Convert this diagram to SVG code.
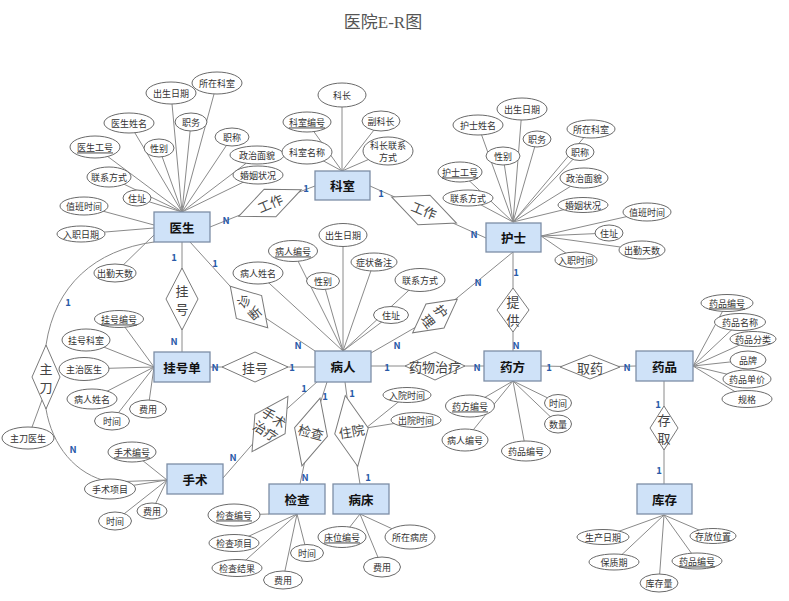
<svg xmlns="http://www.w3.org/2000/svg" width="789" height="601" viewBox="0 0 789 601">
<style>
text{font-family:"Noto Sans CJK SC","Noto Sans",sans-serif;text-anchor:middle;dominant-baseline:central}
.title{font-family:"Liberation Serif","Noto Sans CJK SC",serif;font-size:17px;fill:#555}
.ln{stroke:#8a8a8a;stroke-width:1;fill:none}
.ent rect{fill:#cfe2f8;stroke:#7d8ea6;stroke-width:1.3}
.ent text{font-size:12.5px;font-weight:bold;fill:#111}
.rel polygon{fill:#fff;stroke:#7a7a7a;stroke-width:1}
.rel text{font-size:13px;fill:#444}
.at ellipse{fill:#fff;stroke:#6a6a6a;stroke-width:1}
.at text{font-size:9px;fill:#333}
.u{text-decoration:underline}
.c{font-size:9.5px;font-weight:bold;fill:#2a5aa8}
</style>
<rect width="789" height="601" fill="#fff"/>
<text class="title" x="383" y="22">医院E-R图</text>

<g id="connectors" class="ln">
<polyline points="210,227 270,203 315,186"/>
<polyline points="370,186 424,210 486,238"/>
<polyline points="182,242 182,299 182,352"/>
<polyline points="190,242 249,307 315,351"/>
<polyline points="210,367 255,367 315,367"/>
<path d="M154,242 C95,250 55,285 46,345 L46,409 C52,445 75,475 110,482 L167,480"/>
<line x1="28" y1="438" x2="42" y2="400"/>
<polyline points="318,381 270,424 223,478"/>
<polyline points="327,382 311,432 300,484"/>
<polyline points="345,382 351.5,431 360,484"/>
<line x1="366" y1="428" x2="407" y2="395"/>
<line x1="366" y1="428" x2="416" y2="420"/>
<polyline points="371,353 435,316 513,252"/>
<polyline points="513,252 513,310 513,351"/>
<polyline points="371,366 435,366 484,366"/>
<polyline points="541,366 590,367 636,366"/>
<polyline points="664,381 664,428 664,484"/>
<path d="M182,212L217,83M182,212L171,93M182,212L129,123M182,212L191,122M182,212L232,137M182,212L95,147M182,212L159,148M182,212L257,155M182,212L109,177M182,212L258,175M182,212L137,198M154,225L84,206M154,228L81,234M154,235L115,273"/>
<path d="M342,171L342,95M342,171L307,122M342,171L381,121M342,171L307,152M342,171L388,151"/>
<path d="M513,222L522,109M513,222L478,125M513,222L591,129M513,222L537,139M513,222L503,156M513,222L580,152M513,222L460,172M513,222L584,178M513,222L468,198M513,222L583,205M541,236L647,212M541,236L609,233M541,236L642,250M541,236L576,260"/>
<path d="M343,351L343,235M343,351L293,251M343,351L374,262M343,351L258,273M343,351L323,281M343,351L420,280M343,351L391,315"/>
<path d="M154,367L119,319M154,367L86,340M154,367L84,369M154,367L92,399M154,367L148,409M154,367L112,421"/>
<path d="M167,480L132,452M167,480L110,489M167,480L152,511M167,480L115,521"/>
<path d="M269,514L234,515M297,514L234,543M297,514L307,553M297,514L237,568M297,514L283,580"/>
<path d="M360,514L342,537M360,514L410,537M360,514L382,567"/>
<path d="M513,381L470,406M513,381L558,403M513,381L465,440M513,381L558,424M513,381L526,451"/>
<path d="M693,366L727,303M693,366L740,322M693,366L753,339M693,366L748,360M693,366L747,379M693,366L747,399"/>
<path d="M664,515L603,537M664,515L713,536M664,515L614,562M664,515L697,561M664,515L659,583"/>
</g>

<g id="cardinalities">
<text class="c" x="226" y="220">N</text><text class="c" x="306" y="188">1</text>
<text class="c" x="381" y="193">1</text><text class="c" x="474" y="234">N</text>
<text class="c" x="174" y="257">1</text><text class="c" x="174" y="341">N</text>
<text class="c" x="215" y="263">1</text><text class="c" x="298" y="345">N</text>
<text class="c" x="215" y="367">N</text><text class="c" x="292" y="367">1</text>
<text class="c" x="68" y="302">1</text><text class="c" x="73" y="449">N</text>
<text class="c" x="304" y="388">1</text><text class="c" x="233" y="457">N</text>
<text class="c" x="325" y="396">1</text><text class="c" x="305" y="477">N</text>
<text class="c" x="352" y="393">1</text><text class="c" x="368" y="477">1</text>
<text class="c" x="397" y="345">N</text><text class="c" x="478" y="282">N</text>
<text class="c" x="516" y="272">1</text><text class="c" x="516" y="345">N</text>
<text class="c" x="387" y="367">1</text><text class="c" x="477" y="367">N</text>
<text class="c" x="549" y="367">1</text><text class="c" x="627" y="367">N</text>
<text class="c" x="658" y="404">1</text><text class="c" x="659" y="470">1</text>
</g>

<g id="relationships" class="rel">
<g id="r-work1" transform="translate(270,203) rotate(-23)"><polygon points="-34,0 0,-15 34,0 0,15"/><text>工作</text></g>
<g id="r-work2" transform="translate(424,210) rotate(22)"><polygon points="-35,0 0,-16 35,0 0,16"/><text>工作</text></g>
<g id="r-reg1" transform="translate(182,299)"><polygon points="0,-31 16,0 0,31 -16,0"/><text y="-9">挂</text><text y="9">号</text></g>
<g id="r-diag" transform="translate(249,307) rotate(-42)"><polygon points="0,-28 17,0 0,28 -17,0"/><text y="-8">诊</text><text y="8">断</text></g>
<g id="r-reg2" transform="translate(255,367)"><polygon points="-33,0 0,-15 33,0 0,15"/><text>挂号</text></g>
<g id="r-main" transform="translate(46,377)"><polygon points="0,-32 14,0 0,32 -14,0"/><text y="-9">主</text><text y="9">刀</text></g>
<g id="r-surg" transform="translate(270,424) rotate(33)"><polygon points="0,-33 18,0 0,33 -18,0"/><text y="-8">手术</text><text y="8">治疗</text></g>
<g id="r-check" transform="translate(311,432) rotate(15)"><polygon points="0,-35 17,0 0,35 -17,0"/><text>检查</text></g>
<g id="r-hosp" transform="translate(351.5,431) rotate(-10)"><polygon points="0,-36 17,0 0,36 -17,0"/><text>住院</text></g>
<g id="r-care" transform="translate(435,316) rotate(53)"><polygon points="0,-28 15,0 0,28 -15,0"/><text y="-8">护</text><text y="8">理</text></g>
<g id="r-provide" transform="translate(513,310)"><polygon points="0,-22 16,0 0,22 -16,0"/><text y="-9">提</text><text y="9">供</text></g>
<g id="r-drug" transform="translate(435,366)"><polygon points="-30,0 0,-14 30,0 0,14"/><text>药物治疗</text></g>
<g id="r-take" transform="translate(590,367)"><polygon points="-30,0 0,-12 30,0 0,12"/><text>取药</text></g>
<g id="r-store" transform="translate(664,428)"><polygon points="0,-22 14,0 0,22 -14,0"/><text y="-9">存</text><text y="9">取</text></g>
</g>

<g id="entities" class="ent">
<g id="e-doctor"><rect x="154" y="212" width="56" height="30"/><text x="182" y="227">医生</text></g>
<g id="e-dept"><rect x="315" y="171" width="55" height="29"/><text x="342.5" y="185.5">科室</text></g>
<g id="e-nurse"><rect x="486" y="223" width="55" height="29"/><text x="513.5" y="237.5">护士</text></g>
<g id="e-reg"><rect x="154" y="352" width="56" height="30"/><text x="182" y="367">挂号单</text></g>
<g id="e-patient"><rect x="315" y="351" width="56" height="31"/><text x="343" y="366.5">病人</text></g>
<g id="e-presc"><rect x="484" y="351" width="57" height="30"/><text x="512.5" y="366">药方</text></g>
<g id="e-drug"><rect x="636" y="351" width="57" height="30"/><text x="664.5" y="366">药品</text></g>
<g id="e-surgery"><rect x="167" y="464" width="56" height="30"/><text x="195" y="479">手术</text></g>
<g id="e-check"><rect x="269" y="484" width="56" height="30"/><text x="297" y="499">检查</text></g>
<g id="e-bed"><rect x="333" y="484" width="56" height="30"/><text x="361" y="499">病床</text></g>
<g id="e-stock"><rect x="637" y="484" width="55" height="30"/><text x="664.5" y="499">库存</text></g>
</g>

<g id="attributes" class="at">
<g id="a-d1"><ellipse cx="217" cy="83" rx="25" ry="11"/><text x="217" y="83">所在科室</text></g>
<g id="a-d2"><ellipse cx="171" cy="93" rx="25" ry="11"/><text x="171" y="93">出生日期</text></g>
<g id="a-d3"><ellipse cx="129" cy="123" rx="25" ry="10"/><text x="129" y="123">医生姓名</text></g>
<g id="a-d4"><ellipse cx="191" cy="122" rx="16" ry="9"/><text x="191" y="122">职务</text></g>
<g id="a-d5"><ellipse cx="232" cy="137" rx="17" ry="9"/><text x="232" y="137">职称</text></g>
<g id="a-d6"><ellipse cx="95" cy="147" rx="25" ry="11"/><text class="u" x="95" y="147">医生工号</text></g>
<g id="a-d7"><ellipse cx="159" cy="148" rx="15" ry="9"/><text x="159" y="148">性别</text></g>
<g id="a-d8"><ellipse cx="257" cy="155" rx="27" ry="9"/><text x="257" y="155">政治面貌</text></g>
<g id="a-d9"><ellipse cx="109" cy="177" rx="22" ry="10"/><text x="109" y="177">联系方式</text></g>
<g id="a-d10"><ellipse cx="258" cy="175" rx="25" ry="9"/><text x="258" y="175">婚姻状况</text></g>
<g id="a-d11"><ellipse cx="137" cy="198" rx="14" ry="8"/><text x="137" y="198">住址</text></g>
<g id="a-d12"><ellipse cx="84" cy="206" rx="24" ry="9"/><text x="84" y="206">值班时间</text></g>
<g id="a-d13"><ellipse cx="81" cy="234" rx="24" ry="8"/><text x="81" y="234">入职日期</text></g>
<g id="a-d14"><ellipse cx="115" cy="273" rx="21" ry="9"/><text x="115" y="273">出勤天数</text></g>

<g id="a-k1"><ellipse cx="342" cy="95" rx="24" ry="12"/><text x="342" y="95">科长</text></g>
<g id="a-k2"><ellipse cx="307" cy="122" rx="24" ry="10"/><text class="u" x="307" y="122">科室编号</text></g>
<g id="a-k3"><ellipse cx="381" cy="121" rx="19" ry="10"/><text x="381" y="121">副科长</text></g>
<g id="a-k4"><ellipse cx="307" cy="152" rx="25" ry="12"/><text x="307" y="152">科室名称</text></g>
<g id="a-k5"><ellipse cx="388" cy="151" rx="25" ry="14"/><text x="388" y="145">科长联系</text><text x="388" y="157">方式</text></g>

<g id="a-n1"><ellipse cx="522" cy="109" rx="25" ry="11"/><text x="522" y="109">出生日期</text></g>
<g id="a-n2"><ellipse cx="478" cy="125" rx="25" ry="10"/><text x="478" y="125">护士姓名</text></g>
<g id="a-n3"><ellipse cx="591" cy="129" rx="24" ry="9"/><text x="591" y="129">所在科室</text></g>
<g id="a-n4"><ellipse cx="537" cy="139" rx="14" ry="8"/><text x="537" y="139">职务</text></g>
<g id="a-n5"><ellipse cx="503" cy="156" rx="17" ry="9"/><text x="503" y="156">性别</text></g>
<g id="a-n6"><ellipse cx="580" cy="152" rx="14" ry="8.5"/><text x="580" y="152">职称</text></g>
<g id="a-n7"><ellipse cx="460" cy="172" rx="22" ry="10"/><text class="u" x="460" y="172">护士工号</text></g>
<g id="a-n8"><ellipse cx="584" cy="178" rx="24" ry="10"/><text x="584" y="178">政治面貌</text></g>
<g id="a-n9"><ellipse cx="468" cy="198" rx="25" ry="8"/><text x="468" y="198">联系方式</text></g>
<g id="a-n10"><ellipse cx="583" cy="205" rx="25" ry="7.5"/><text x="583" y="205">婚姻状况</text></g>
<g id="a-n11"><ellipse cx="647" cy="212" rx="24" ry="9"/><text x="647" y="212">值班时间</text></g>
<g id="a-n12"><ellipse cx="609" cy="233" rx="14" ry="8"/><text x="609" y="233">住址</text></g>
<g id="a-n13"><ellipse cx="642" cy="250" rx="23" ry="9"/><text x="642" y="250">出勤天数</text></g>
<g id="a-n14"><ellipse cx="576" cy="260" rx="21" ry="8"/><text x="576" y="260">入职时间</text></g>

<g id="a-p1"><ellipse cx="343" cy="235" rx="24" ry="11.5"/><text x="343" y="235">出生日期</text></g>
<g id="a-p2"><ellipse cx="293" cy="251" rx="24.5" ry="10.5"/><text class="u" x="293" y="251">病人编号</text></g>
<g id="a-p3"><ellipse cx="374" cy="262" rx="23" ry="9"/><text x="374" y="262">症状备注</text></g>
<g id="a-p4"><ellipse cx="258" cy="273" rx="25" ry="11"/><text x="258" y="273">病人姓名</text></g>
<g id="a-p5"><ellipse cx="323" cy="281" rx="16.5" ry="8.5"/><text x="323" y="281">性别</text></g>
<g id="a-p6"><ellipse cx="420" cy="280" rx="25" ry="11.5"/><text x="420" y="280">联系方式</text></g>
<g id="a-p7"><ellipse cx="391" cy="315" rx="17.5" ry="8.5"/><text x="391" y="315">住址</text></g>
<g id="a-h1"><ellipse cx="407" cy="395" rx="24" ry="7.5"/><text x="407" y="395">入院时间</text></g>
<g id="a-h2"><ellipse cx="416" cy="420" rx="25" ry="7.5"/><text x="416" y="420">出院时间</text></g>

<g id="a-g1"><ellipse cx="119" cy="319" rx="24.5" ry="8.5"/><text class="u" x="119" y="319">挂号编号</text></g>
<g id="a-g2"><ellipse cx="86" cy="340" rx="24" ry="11"/><text x="86" y="340">挂号科室</text></g>
<g id="a-g3"><ellipse cx="84" cy="369" rx="25" ry="11.5"/><text x="84" y="369">主治医生</text></g>
<g id="a-g4"><ellipse cx="92" cy="399" rx="25" ry="10"/><text x="92" y="399">病人姓名</text></g>
<g id="a-g5"><ellipse cx="148" cy="409" rx="18.5" ry="9"/><text x="148" y="409">费用</text></g>
<g id="a-g6"><ellipse cx="112" cy="421" rx="17.5" ry="9"/><text x="112" y="421">时间</text></g>
<g id="a-m1"><ellipse cx="28" cy="438" rx="26" ry="11"/><text x="28" y="438">主刀医生</text></g>

<g id="a-s1"><ellipse cx="132" cy="452" rx="24" ry="10"/><text class="u" x="132" y="452">手术编号</text></g>
<g id="a-s2"><ellipse cx="110" cy="489" rx="25.5" ry="10"/><text x="110" y="489">手术项目</text></g>
<g id="a-s3"><ellipse cx="152" cy="511" rx="15" ry="8"/><text x="152" y="511">费用</text></g>
<g id="a-s4"><ellipse cx="115" cy="521" rx="16.5" ry="9"/><text x="115" y="521">时间</text></g>

<g id="a-c1"><ellipse cx="234" cy="515" rx="26" ry="11"/><text class="u" x="234" y="515">检查编号</text></g>
<g id="a-c2"><ellipse cx="234" cy="543" rx="25" ry="8.5"/><text x="234" y="543">检查项目</text></g>
<g id="a-c3"><ellipse cx="307" cy="553" rx="16.5" ry="8.5"/><text x="307" y="553">时间</text></g>
<g id="a-c4"><ellipse cx="237" cy="568" rx="25" ry="8.5"/><text x="237" y="568">检查结果</text></g>
<g id="a-c5"><ellipse cx="283" cy="580" rx="19.5" ry="9"/><text x="283" y="580">费用</text></g>

<g id="a-b1"><ellipse cx="342" cy="537" rx="24" ry="10.5"/><text class="u" x="342" y="537">床位编号</text></g>
<g id="a-b2"><ellipse cx="410" cy="537" rx="25" ry="12"/><text x="410" y="537">所在病房</text></g>
<g id="a-b3"><ellipse cx="382" cy="567" rx="18.5" ry="10"/><text x="382" y="567">费用</text></g>

<g id="a-f1"><ellipse cx="470" cy="406" rx="24.5" ry="11"/><text class="u" x="470" y="406">药方编号</text></g>
<g id="a-f2"><ellipse cx="558" cy="403" rx="13.5" ry="8.5"/><text x="558" y="403">时间</text></g>
<g id="a-f3"><ellipse cx="465" cy="440" rx="23" ry="11"/><text x="465" y="440">病人编号</text></g>
<g id="a-f4"><ellipse cx="558" cy="424" rx="13.5" ry="9"/><text x="558" y="424">数量</text></g>
<g id="a-f5"><ellipse cx="526" cy="451" rx="24.5" ry="10"/><text x="526" y="451">药品编号</text></g>

<g id="a-y1"><ellipse cx="727" cy="303" rx="26" ry="8.5"/><text class="u" x="727" y="303">药品编号</text></g>
<g id="a-y2"><ellipse cx="740" cy="322" rx="25.5" ry="8.5"/><text x="740" y="322">药品名称</text></g>
<g id="a-y3"><ellipse cx="753" cy="339" rx="23" ry="7.5"/><text x="753" y="339">药品分类</text></g>
<g id="a-y4"><ellipse cx="748" cy="360" rx="18" ry="9"/><text x="748" y="360">品牌</text></g>
<g id="a-y5"><ellipse cx="747" cy="379" rx="24" ry="9"/><text x="747" y="379">药品单价</text></g>
<g id="a-y6"><ellipse cx="747" cy="399" rx="25" ry="8.5"/><text x="747" y="399">规格</text></g>

<g id="a-t1"><ellipse cx="603" cy="537" rx="26" ry="7.5"/><text x="603" y="537">生产日期</text></g>
<g id="a-t2"><ellipse cx="713" cy="536" rx="23" ry="7.5"/><text x="713" y="536">存放位置</text></g>
<g id="a-t3"><ellipse cx="614" cy="562" rx="25" ry="8"/><text x="614" y="562">保质期</text></g>
<g id="a-t4"><ellipse cx="697" cy="561" rx="25" ry="8"/><text class="u" x="697" y="561">药品编号</text></g>
<g id="a-t5"><ellipse cx="659" cy="583" rx="19" ry="9"/><text x="659" y="583">库存量</text></g>
</g>
</svg>
